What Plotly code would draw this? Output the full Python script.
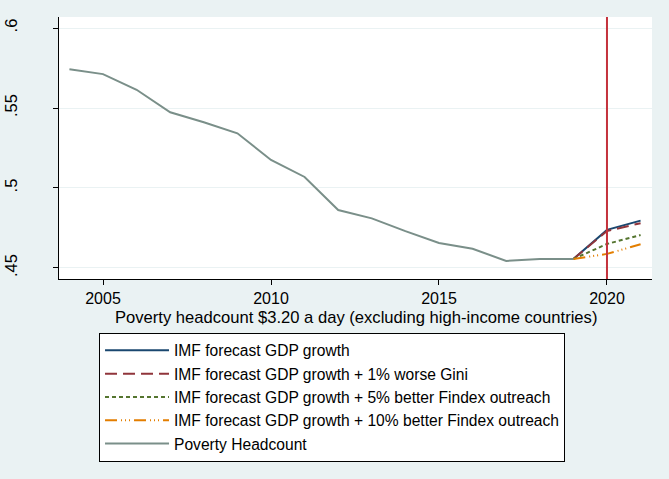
import plotly.graph_objects as go

years_hist = [2004, 2005, 2006, 2007, 2008, 2009, 2010, 2011, 2012, 2013, 2014, 2015, 2016, 2017, 2018, 2019]
headcount = [0.5742, 0.5712, 0.5614, 0.5473, 0.5411, 0.5342, 0.5175, 0.5069, 0.4862, 0.4810,
             0.4730, 0.4656, 0.4620, 0.4544, 0.4556, 0.4556]

years_fc = [2019, 2020, 2021]
imf_gdp = [0.4556, 0.4738, 0.4796]
imf_gini = [0.4556, 0.4731, 0.4780]
imf_findex5 = [0.4556, 0.4650, 0.4706]
imf_findex10 = [0.4556, 0.4588, 0.4648]

vline_year = 2020
ytick_vals = [0.45, 0.5, 0.55, 0.6]
ytick_text = [".45", ".5", ".55", ".6"]
xtick_vals = [2005, 2010, 2015, 2020]
x_title = "Poverty headcount $3.20 a day (excluding high-income countries)"

series = [
    ("IMF forecast GDP growth", years_fc, imf_gdp, "#1a476f", "solid"),
    ("IMF forecast GDP growth + 1% worse Gini", years_fc, imf_gini, "#90353b", "12px,6px"),
    ("IMF forecast GDP growth + 5% better Findex outreach", years_fc, imf_findex5, "#55752f", "4px,3px"),
    ("IMF forecast GDP growth + 10% better Findex outreach", years_fc, imf_findex10, "#e37e00",
     "12px,4px,1px,3px,1px,3px,1px,4px"),
    ("Poverty Headcount", years_hist, headcount, "#7a8f89", "solid"),
]

fig = go.Figure()
for name, xs, ys, col, dash in series:
    fig.add_trace(go.Scatter(x=xs, y=ys, mode="lines", name=name,
                             line=dict(color=col, width=2, dash=dash)))

fig.add_vline(x=vline_year, line=dict(color="#c4323c", width=2))

font = "Liberation Sans, Arial, sans-serif"
fig.add_annotation(text=x_title, xref="paper", yref="paper", x=0.5, y=-0.146,
                   xanchor="center", yanchor="middle", showarrow=False, borderpad=0,
                   font=dict(family=font, size=16.6, color="#000000"))

fig.update_layout(
    width=669, height=479,
    margin=dict(l=59, r=17, t=17, b=200),
    paper_bgcolor="#eaf2f3",
    plot_bgcolor="#ffffff",
    font=dict(family=font, size=16, color="#000000"),
    showlegend=True,
    legend=dict(
        x=0.0675, y=-0.205, xanchor="left", yanchor="top",
        bgcolor="#ffffff", bordercolor="#000000", borderwidth=1,
        font=dict(family=font, size=15.6, color="#000000"),
        itemwidth=64, tracegroupgap=0,
    ),
    xaxis=dict(
        range=[2003.69, 2021.34],
        tickvals=xtick_vals,
        ticks="outside", ticklen=5, tickcolor="#000000",
        showgrid=False, zeroline=False, automargin=False,
        showline=True, linecolor="#000000", linewidth=1,
        tickfont=dict(size=16),
    ),
    yaxis=dict(
        range=[0.4431, 0.6069],
        tickvals=ytick_vals, ticktext=ytick_text,
        tickangle=-90, automargin=False,
        ticks="outside", ticklen=5, tickcolor="#000000",
        ticklabelstandoff=29,
        showgrid=True, gridcolor="#eaf2f3", gridwidth=1,
        zeroline=False,
        showline=True, linecolor="#000000", linewidth=1,
        tickfont=dict(size=16.5),
    ),
)

fig.write_html("out.html", config={"displayModeBar": False},
               post_script="document.body.style.margin='0';")
